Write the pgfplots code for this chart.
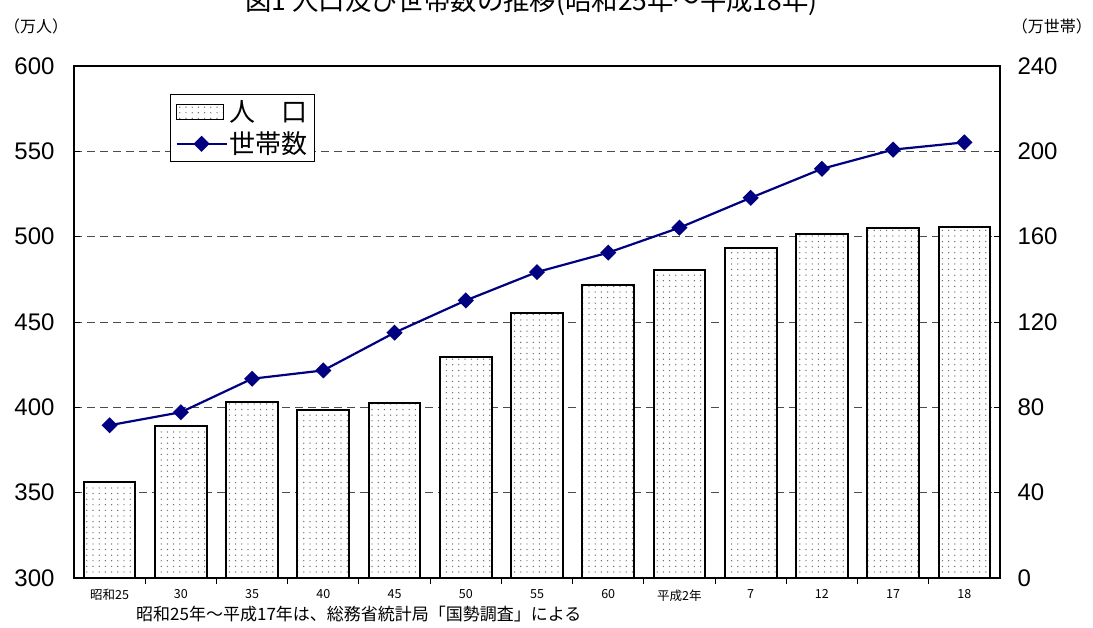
\documentclass[border=0pt]{standalone}
\usepackage{pgfplots}
\pgfplotsset{compat=1.18}
\usepackage{fontspec}
\setmainfont{Liberation Sans}
\newfontfamily\jp{Noto Sans CJK JP}
\usetikzlibrary{patterns.meta}
\tikzdeclarepattern{name=mydots, type=uncolored, bottom left={(-1pt,-1pt)}, top right={(1pt,1pt)}, tile size={(6.2pt,5.6pt)}, code={\fill (0pt,0pt) circle (0.7pt);}}
\definecolor{navy}{RGB}{0,0,128}
\begin{document}
\begin{tikzpicture}[x=1pt,y=1pt]
\begin{axis}[
  at={(74pt,50pt)}, anchor=south west,
  scale only axis, width=926pt, height=512pt,
  xmin=-0.5, xmax=12.5, ymin=300, ymax=600,
  enlargelimits=false,
  xtick pos=bottom, ytick pos=left,
  tick align=inside,
  xtick={0,...,12},
  xticklabels={昭和25,30,35,40,45,50,55,60,平成2年,7,12,17,18},
  major x tick style={draw=none},
  minor xtick={0.5,1.5,...,11.5},
  minor tick length=6pt, major tick length=6pt,
  ytick={300,350,...,600},
  ymajorgrids,
  grid style={dash pattern=on 8pt off 5pt, color=black!70, line width=0.9pt},
  axis line style={line width=1.8pt},
  every tick/.style={black, line width=0.9pt},
  yticklabel style={font=\fontsize{24}{24}\selectfont, xshift=-16pt},
  xticklabel style={font=\jp\fontsize{12.5}{12.5}\selectfont, yshift=-2pt},
  /pgf/number format/assume math mode=true,
  ybar, bar width=51.7pt,
]
\addplot[draw=black, line width=2pt, fill=white, postaction={pattern=mydots, pattern color=black!60}] coordinates {
(0,356.2) (1,388.9) (2,403.3) (3,398.7) (4,402.6) (5,429.7) (6,455.5) (7,471.7) (8,480.6) (9,493.6) (10,501.8) (11,505.3) (12,505.8)};
\end{axis}
\begin{axis}[
  at={(74pt,50pt)}, anchor=south west,
  scale only axis, width=926pt, height=512pt,
  xmin=-0.5, xmax=12.5, ymin=0, ymax=240,
  enlargelimits=false,
  axis x line=none, axis y line*=right,
  tick align=inside, major tick length=6pt,
  ytick={0,40,...,240},
  axis line style={line width=1.8pt},
  every tick/.style={black, line width=0.9pt},
  yticklabel style={font=\fontsize{24}{24}\selectfont, xshift=14pt},
  /pgf/number format/assume math mode=true,
  legend style={at={(0.1037,0.945)}, anchor=north west, draw=black, line width=0.9pt, fill=white,
    font=\jp\fontsize{26}{26}\selectfont, inner xsep=5pt, inner ysep=4pt, row sep=5pt},
  legend cell align=left,
]
\addlegendimage{legend image code/.code={\draw[black,line width=1.5pt,fill=white,postaction={pattern=mydots,pattern color=black!60}] (0pt,-7.5pt) rectangle (47pt,7.5pt);}}
\addlegendentry{人　口}
\addplot[navy, line width=2.2pt, mark=square*, mark size=4.6pt, mark options={rotate=45, solid, fill=navy},
  legend image code/.code={\draw[navy,line width=2.2pt] (0pt,0pt) -- (50pt,0pt); \fill[navy] (25pt,0pt) +(-6.5pt,0pt) -- +(0pt,6.5pt) -- +(6.5pt,0pt) -- +(0pt,-6.5pt) -- cycle;}]
coordinates {
(0,71.6) (1,77.7) (2,93.4) (3,97.3) (4,115.0) (5,130.1) (6,143.4) (7,152.5) (8,164.2) (9,178.2) (10,191.8) (11,200.8) (12,204.2)};
\addlegendentry{世帯数}
\end{axis}
\node[font=\jp\fontsize{26.4}{26.4}\selectfont, anchor=base] at (531.5,617) {図1 人口及び世帯数の推移(昭和25年～平成18年)};
\node[font=\jp\fontsize{16}{16}\selectfont, anchor=base west, inner sep=0pt] at (4,595) {（万人）};
\node[font=\jp\fontsize{16}{16}\selectfont, anchor=base east, inner sep=0pt] at (1092,595) {（万世帯）};
\node[font=\jp\fontsize{17}{17}\selectfont, anchor=base west, inner sep=0pt] at (136,7) {昭和25年～平成17年は、総務省統計局「国勢調査」による};
\pgfresetboundingbox
\useasboundingbox (0,0) rectangle (1093,628);
\end{tikzpicture}
\end{document}
